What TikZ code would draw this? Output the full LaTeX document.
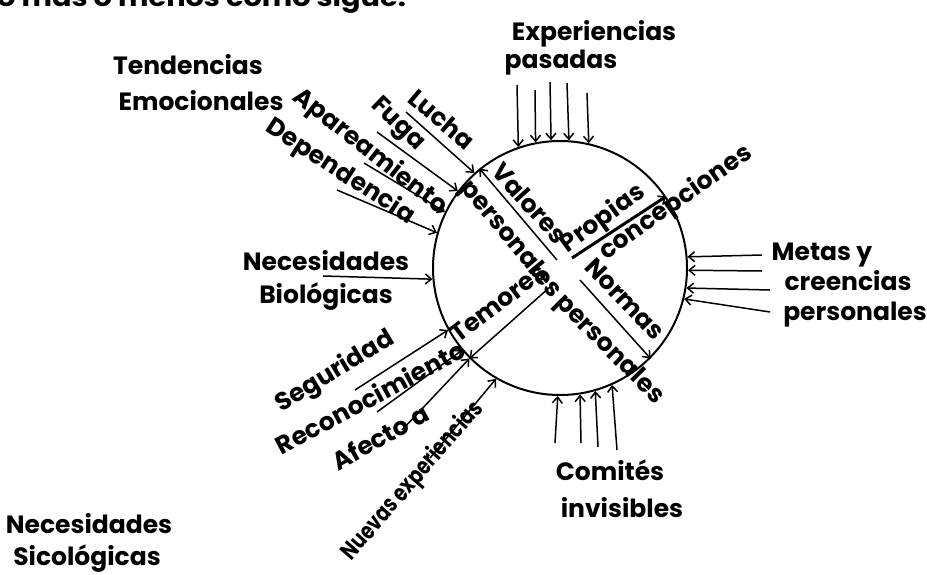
\documentclass[tikz,border=0pt]{standalone}
\usepackage{graphicx}
\usepackage{fontspec}
\setmainfont{Poppins}
\usetikzlibrary{arrows.meta}
\begin{document}
\begin{tikzpicture}[x=1pt,y=-1pt,
  lab/.style={font=\bfseries\fontsize{25}{29}\selectfont, inner sep=0pt},
  head/.style={lab, anchor=base},
  arr/.style={line width=1.5pt, -{Straight Barb[length=6pt,width=10pt,line width=1.5pt]}},
  inner/.style={arr},
]
\useasboundingbox (0,0) rectangle (927,574);

% partial top line
\node[head, anchor=base west, xscale=1.15] (top) at (-3,6) {o más o menos como sigue:};

% circle
\node[draw, circle, minimum size=254pt, inner sep=0pt, line width=2pt] (circ) at (560,268) {};

% headings
\node[head] (tend) at (188,74) {Tendencias};
\node[head] (emoc) at (201,110) {Emocionales};
\node[head] (exp1) at (594,40) {Experiencias};
\node[head] (exp2) at (561,68) {pasadas};
\node[head] (meta1) at (822,260) {Metas y};
\node[head] (meta2) at (848,290) {creencias};
\node[head] (meta3) at (855,320) {personales};
\node[head] (nb1) at (326,270) {Necesidades};
\node[head] (nb2) at (326,303) {Biológicas};
\node[head] (com1) at (610,480) {Comités};
\node[head] (com2) at (622,517) {invisibles};
\node[head] (ns1) at (89,533) {Necesidades};
\node[head] (ns2) at (87,565) {Sicológicas};

% Experiencias pasadas arrows
\coordinate (e1) at (517,85);
\coordinate (e2) at (535,90);
\coordinate (e3) at (550,82);
\coordinate (e4) at (567,83);
\coordinate (e5) at (587,93);
\draw[arr] (e1) -- (circ.109.8);
\draw[arr] (e2) -- (circ.101.4);
\draw[arr] (e3) -- (circ.94.5);
\draw[arr] (e4) -- (circ.86.8);
\draw[arr] (e5) -- (circ.77.7);

% Metas arrows
\coordinate (m1) at (762,255);
\coordinate (m2) at (762,271);
\coordinate (m3) at (770,290);
\coordinate (m4) at (770,312);
\draw[arr] (m1) -- (circ.5.9);
\draw[arr] (m2) -- (circ.-1.8);
\draw[arr] (m3) -- (circ.-9.1);
\draw[arr] (m4) -- (circ.-14.6);

% Comites arrows
\coordinate (c1) at (555,443);
\coordinate (c2) at (581,443);
\coordinate (c3) at (598,447);
\coordinate (c4) at (617,450);
\draw[arr] (c1) -- (circ.-91.4);
\draw[arr] (c2) -- (circ.-81.9);
\draw[arr] (c3) -- (circ.-74.9);
\draw[arr] (c4) -- (circ.-66.8);

% Biologicas
\coordinate (b1) at (323,276);
\draw[arr] (b1) -- (circ.185.8);

% Tendencias emocionales
\node[lab, rotate=-40] (lucha) at (442,119) {Lucha};
\node[lab, rotate=-44] (fuga) at (397,125) {Fuga};
\node[lab, rotate=-38] (apar) at (370,152) {Apareamiento};
\node[lab, rotate=-33] (dep) at (340,172) {Dependencia};
\coordinate (l1) at (406,112);
\coordinate (f1) at (377,132);
\coordinate (a1) at (364,163);
\coordinate (d1) at (337,190);
\draw[arr] (l1) -- (circ.132);
\draw[arr] (f1) -- (circ.143);
\draw[arr] (a1) -- (circ.154);
\draw[arr] (d1) -- (circ.164);

% Necesidades sicologicas
\node[lab, rotate=31] (seg) at (335,372) {Seguridad};
\node[lab, rotate=28] (rec) at (370,397) {Reconocimiento};
\node[lab, rotate=29] (afe) at (380,437) {Afecto a};
\node[lab, font=\bfseries\fontsize{24}{28}\selectfont, rotate=49] (nue) at (413,481) {\scalebox{0.78}[1]{Nuevas experiencias}};
\coordinate (s1) at (355,390);
\coordinate (r1) at (377,412);
\coordinate (af1) at (402,430);
\coordinate (n1) at (430,458);
\draw[arr] (s1) -- (circ.209.3);
\draw[arr] (r1) -- (circ.220.6);
\draw[arr] (af1) -- (circ.225.3);
\draw[arr] (n1) -- (circ.240.3);

% inner lines
\coordinate (vs) at (557,260);
\coordinate (nsx) at (580,280);
\coordinate (ts) at (550,287);
\coordinate (ps) at (572,258);
\draw[inner] (vs) -- (circ.129.8);
\draw[inner] (nsx) -- (circ.-45);
\draw[inner] (ts) -- (circ.225.3);
\draw[line width=3pt, -{Straight Barb[length=6pt,width=10pt,line width=1.5pt]}] (ps) -- (circ.34.7);

% inner labels
\node[lab, rotate=-48] (val) at (530,203) {Valores};
\node[lab, rotate=-50] (pv) at (510,240) {personales};
\node[lab, rotate=37] (tem) at (498,303) {Temores};
\node[lab, rotate=36] (prop) at (603,219) {Propias};
\node[lab, rotate=35] (conc) at (676,203) {concepciones};
\node[lab, rotate=-46] (norm) at (625,299) {Normas};
\node[lab, rotate=-45] (pn) at (609,350) {personales};
\end{tikzpicture}
\end{document}
